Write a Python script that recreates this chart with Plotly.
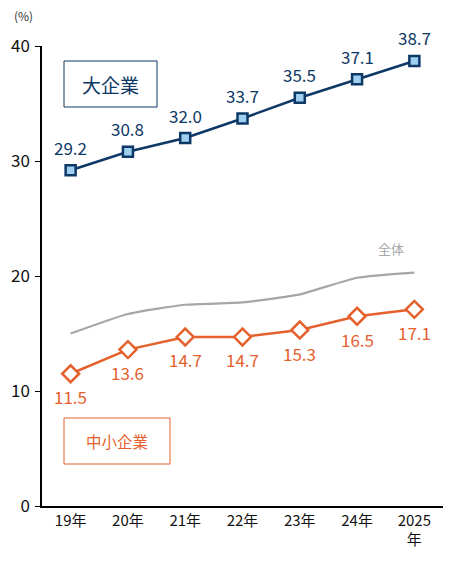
import plotly.graph_objects as go

years = ["19年", "20年", "21年", "22年", "23年", "24年", "2025<br>年"]
large = [29.2, 30.8, 32.0, 33.7, 35.5, 37.1, 38.7]
small = [11.5, 13.6, 14.7, 14.7, 15.3, 16.5, 17.1]
total = [15.0, 16.7, 17.5, 17.7, 18.4, 19.85, 20.3]

NAVY = "#0e3866"
ORANGE = "#e4612d"
GRAY = "#a6a6a6"
FONT = "Noto Sans CJK JP"

fig = go.Figure()

fig.add_trace(go.Scatter(
    x=years, y=total, mode="lines",
    line=dict(color=GRAY, width=2.2, shape="spline", smoothing=0.5),
    hoverinfo="skip"))

fig.add_trace(go.Scatter(
    x=years, y=large, mode="lines+markers",
    line=dict(color=NAVY, width=2.5),
    marker=dict(symbol="square", size=10, color="#9fd0ef",
                line=dict(color=NAVY, width=2.5)),
    cliponaxis=False))

fig.add_trace(go.Scatter(
    x=years, y=small, mode="lines+markers",
    line=dict(color=ORANGE, width=2.5),
    marker=dict(symbol="diamond", size=13, color="white",
                line=dict(color=ORANGE, width=2.5)),
    cliponaxis=False))

# value labels
for x, v in zip(years, large):
    fig.add_annotation(x=x, y=v, text=f"{v:.1f}", showarrow=False,
                       yshift=23, font=dict(size=17, color=NAVY))
for x, v in zip(years, small):
    fig.add_annotation(x=x, y=v, text=f"{v:.1f}", showarrow=False,
                       yshift=-23, font=dict(size=17, color=ORANGE))

# page has an 8px body margin, so the figure is 8px smaller
fig.update_layout(
    width=451, height=559,
    margin=dict(l=34, r=16, t=38, b=61),
    paper_bgcolor="white", plot_bgcolor="white",
    showlegend=False,
    font=dict(family=FONT, color="#111111"),
)
fig.update_xaxes(
    range=[-0.5, 6.5], showline=True, linecolor="black", linewidth=1.5,
    showgrid=False, ticks="", tickfont=dict(size=15, color="#111111"),
    automargin=False,
)
fig.update_yaxes(
    range=[0, 40], dtick=10, showline=True, linecolor="black", linewidth=1.5,
    showgrid=False, zeroline=False, ticks="outside", ticklen=5,
    tickcolor="black", tickfont=dict(size=17, color="#111111"),
    ticklabelstandoff=2, automargin=False,
)

fig.add_annotation(text="(%)", xref="paper", yref="paper",
                   x=(23 - 42) / 401, y=(506 - 16) / 460,
                   xanchor="center", yanchor="middle",
                   showarrow=False, font=dict(size=12, color="#333333"))
fig.add_annotation(text="全体", xref="x", yref="y", x=5.59, y=22.4,
                   xanchor="center", yanchor="middle",
                   showarrow=False, font=dict(size=13, color=GRAY))

fig.add_shape(type="rect", xref="paper", yref="paper",
              x0=(64 - 42) / 401, x1=(157 - 42) / 401,
              y0=(506 - 107) / 460, y1=(506 - 61) / 460,
              line=dict(color=NAVY, width=1), fillcolor="white")
fig.add_annotation(text="大企業", xref="paper", yref="paper",
                   x=(110.5 - 42) / 401, y=(506 - 85) / 460,
                   xanchor="center", yanchor="middle", showarrow=False,
                   font=dict(size=19, color=NAVY))

fig.add_shape(type="rect", xref="paper", yref="paper",
              x0=(64 - 42) / 401, x1=(170 - 42) / 401,
              y0=(506 - 464) / 460, y1=(506 - 418) / 460,
              line=dict(color=ORANGE, width=1), fillcolor="white")
fig.add_annotation(text="中小企業", xref="paper", yref="paper",
                   x=(117 - 42) / 401, y=(506 - 441) / 460,
                   xanchor="center", yanchor="middle", showarrow=False,
                   font=dict(size=15.5, color=ORANGE))

fig.write_html("out.html")
